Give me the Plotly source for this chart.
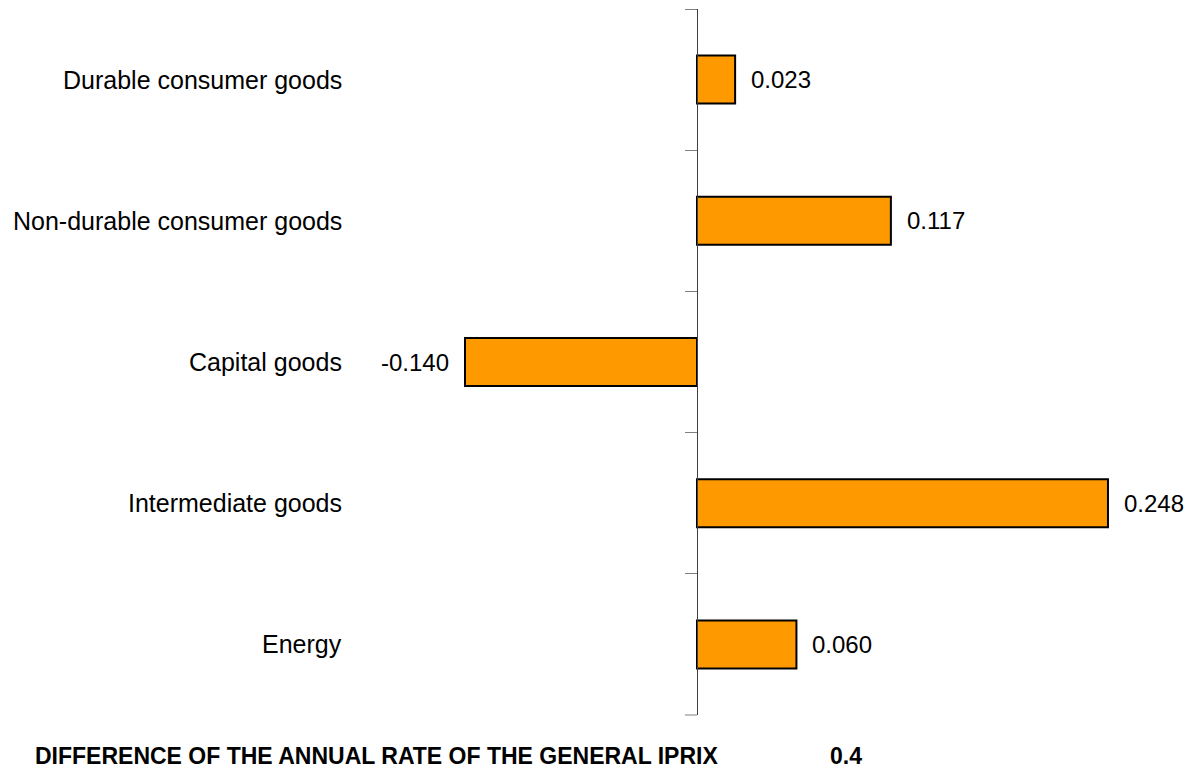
import plotly.graph_objects as go

# Contributions to the annual rate of the general IPRIX, by product group
categories = [
    "Durable consumer goods",
    "Non-durable consumer goods",
    "Capital goods",
    "Intermediate goods",
    "Energy",
]
values = [0.023, 0.117, -0.140, 0.248, 0.060]

footer_label = "DIFFERENCE OF THE ANNUAL RATE OF THE GENERAL IPRIX"
footer_value = "0.4"

W, H = 1191, 769
x_min, x_max = -0.4206, 0.2981
zero_pos = (0 - x_min) / (x_max - x_min)
FONT = "Liberation Sans, Arial"

fig = go.Figure(
    go.Bar(
        x=values,
        y=categories,
        orientation="h",
        marker=dict(color="#FF9900", line=dict(color="#000000", width=2)),
        hoverinfo="skip",
    )
)

annotations = []
for cat, val in zip(categories, values):
    annotations.append(
        dict(
            x=val, y=cat, xref="x", yref="y",
            text=f"{val:.3f}",
            showarrow=False,
            xanchor="left" if val >= 0 else "right",
            xshift=14 if val >= 0 else -14,
            font=dict(family=FONT, size=24, color="#000000"),
        )
    )
    annotations.append(
        dict(
            x=344 / W, y=cat, xref="paper", yref="y",
            text=cat,
            showarrow=False,
            xanchor="right",
            font=dict(family=FONT, size=25, color="#000000"),
        )
    )

annotations.append(
    dict(
        x=33 / W, y=0, xref="paper", yref="paper",
        text=f"<b>{footer_label}</b>",
        showarrow=False, xanchor="left", yanchor="middle", yshift=-41,
        font=dict(family=FONT, size=23, color="#000000"),
    )
)
annotations.append(
    dict(
        x=846 / W, y=0, xref="paper", yref="paper",
        text=f"<b>{footer_value}</b>",
        showarrow=False, xanchor="center", yanchor="middle", yshift=-41,
        font=dict(family=FONT, size=23, color="#000000"),
    )
)

# closing tick at the bottom end of the category axis
shapes = [
    dict(
        type="line", xref="paper", yref="paper",
        x0=zero_pos - 12 / W, x1=zero_pos, y0=0, y1=0,
        line=dict(color="#808080", width=1),
    )
]

fig.update_layout(
    width=W,
    height=H,
    margin=dict(l=0, r=0, t=9, b=54),
    paper_bgcolor="white",
    plot_bgcolor="white",
    showlegend=False,
    bargap=0.66,
    annotations=annotations,
    shapes=shapes,
    xaxis=dict(
        range=[x_min, x_max],
        visible=False,
        domain=[0, 1],
    ),
    yaxis=dict(
        type="category",
        categoryorder="array",
        categoryarray=categories,
        range=[len(categories) - 0.5, -0.5],
        anchor="free",
        position=zero_pos,
        showline=True,
        linecolor="#404040",
        linewidth=1,
        ticks="outside",
        tickson="boundaries",
        ticklen=12,
        tickcolor="#808080",
        tickwidth=1,
        showticklabels=False,
        showgrid=False,
        zeroline=False,
    ),
)

fig.write_html("out.html")
